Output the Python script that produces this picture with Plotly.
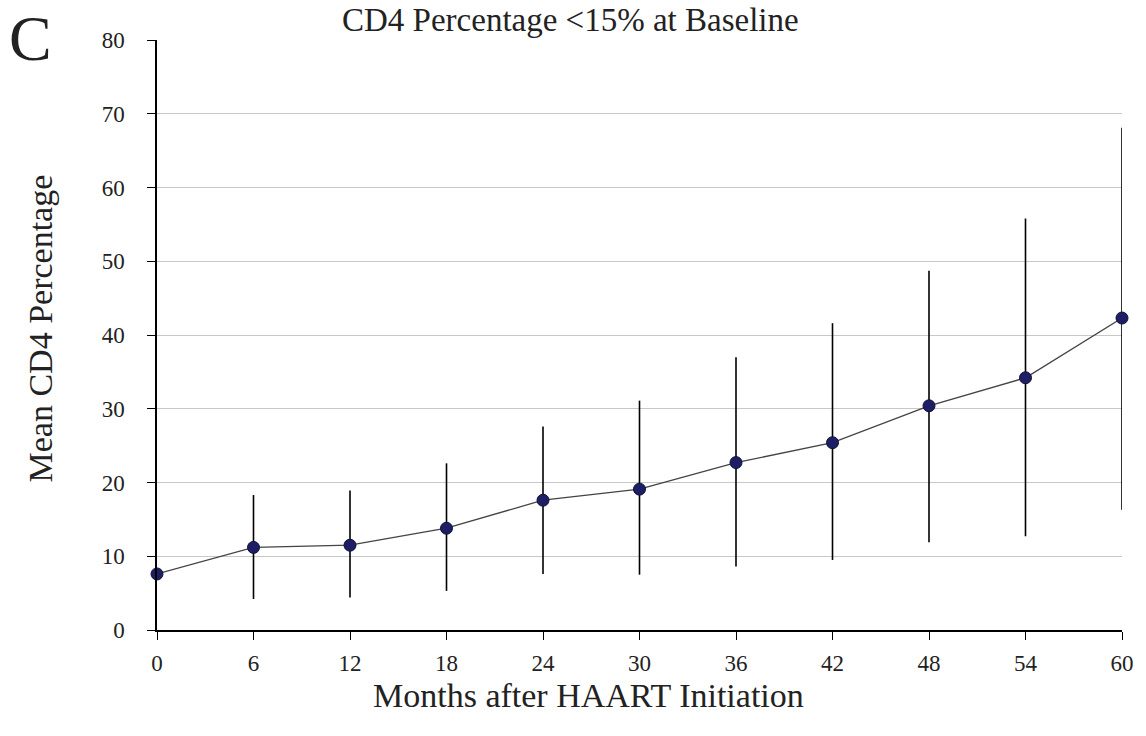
import plotly.graph_objects as go

months = [0, 6, 12, 18, 24, 30, 36, 42, 48, 54, 60]
mean_cd4 = [7.6, 11.2, 11.5, 13.8, 17.6, 19.1, 22.7, 25.4, 30.4, 34.2, 42.3]
upper = [7.6, 18.3, 18.9, 22.6, 27.6, 31.1, 37.0, 41.6, 48.7, 55.8, 68.1]
lower = [7.6, 4.2, 4.4, 5.3, 7.6, 7.5, 8.6, 9.5, 11.9, 12.7, 16.3]
ytick_vals = [0, 10, 20, 30, 40, 50, 60, 70, 80]

err_plus = [u - m for u, m in zip(upper, mean_cd4)]
err_minus = [m - l for m, l in zip(mean_cd4, lower)]

FONT = "Liberation Serif"

fig = go.Figure()
fig.add_trace(go.Scatter(
    x=months, y=mean_cd4, mode="lines+markers",
    line=dict(color="#444444", width=1.3),
    marker=dict(size=12, color="#1e1e66", line=dict(color="#111133", width=1)),
    error_y=dict(type="data", symmetric=False, array=err_plus, arrayminus=err_minus,
                 color="black", thickness=1.6, width=0),
    cliponaxis=False, showlegend=False,
))

fig.update_layout(
    width=1146, height=736,
    margin=dict(l=157, r=20, t=40, b=106),
    paper_bgcolor="white", plot_bgcolor="white",
    font=dict(family=FONT, color="#222222"),
    xaxis=dict(range=[0, 60], tickvals=months, ticks="outside", ticklen=8,
               tickcolor="black", showline=True, linecolor="black", linewidth=1.5,
               showgrid=False, zeroline=False, ticklabelstandoff=4,
               tickfont=dict(size=23, family=FONT)),
    yaxis=dict(range=[0, 80], tickvals=ytick_vals, ticks="outside", ticklen=8,
               tickcolor="black", showline=True, linecolor="black", linewidth=1.5,
               showgrid=True, gridcolor="#c8c8c8", gridwidth=1, zeroline=False,
               ticklabelstandoff=18, ticksuffix="\u00a0",
               tickfont=dict(size=23, family=FONT)),
    annotations=[
        dict(text="CD4 Percentage <15% at Baseline", xref="paper", yref="paper",
             x=(572 - 157) / 969, y=1.0, yshift=20, xanchor="center", yanchor="middle",
             showarrow=False, font=dict(size=33, family=FONT)),
        dict(text="C", xref="paper", yref="paper", x=(6 - 157) / 969, y=1.0, yshift=2,
             xanchor="left", yanchor="middle", showarrow=False, font=dict(size=64, family=FONT)),
        dict(text="Mean CD4 Percentage", xref="paper", yref="paper",
             x=(40 - 157) / 969, y=(630 - 328) / 590, xanchor="center", yanchor="middle",
             textangle=-90, showarrow=False, font=dict(size=34, family=FONT)),
        dict(text="Months after HAART Initiation", xref="paper", yref="paper",
             x=(590 - 157) / 969, y=0, yshift=-65, xanchor="center", yanchor="middle",
             showarrow=False, font=dict(size=34, family=FONT)),
    ],
)

fig.write_html("out.html")
